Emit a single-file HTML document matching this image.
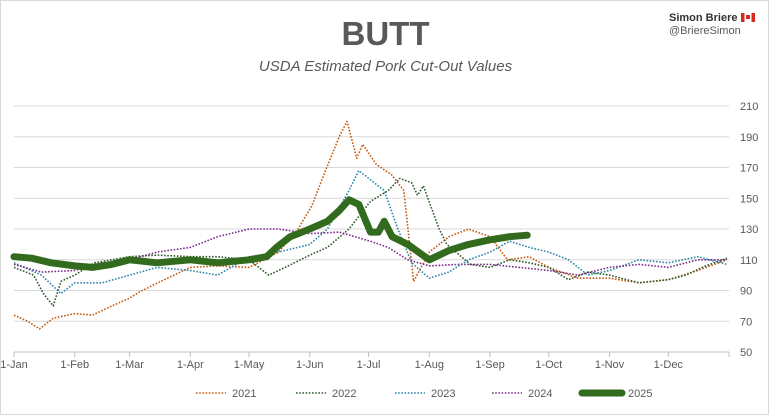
<!DOCTYPE html>
<html><head><meta charset="utf-8">
<style>
body{margin:0;background:#fff;font-family:"Liberation Sans",sans-serif;}
#wrap{position:relative;width:767px;height:413px;border:1px solid #d9d9d9;overflow:hidden;}
.t{position:absolute;white-space:nowrap;}
</style></head><body>
<div id="wrap">
<div class="t" style="left:0;width:769px;text-align:center;top:14px;font-size:33px;font-weight:bold;color:#595959;">BUTT</div>
<div class="t" style="left:0;width:769px;text-align:center;top:57px;font-size:15px;font-style:italic;color:#595959;">USDA Estimated Pork Cut-Out Values</div>
<div class="t" style="left:668px;top:11px;font-size:11px;font-weight:bold;color:#333;">Simon Briere <span style="display:inline-block;width:14px;height:9px;background:linear-gradient(90deg,#d52b1e 25%,#fff 25%,#fff 75%,#d52b1e 75%);vertical-align:-1px;position:relative"><span style="position:absolute;left:5px;top:2px;width:4px;height:4px;background:#d52b1e"></span></span></div>
<div class="t" style="left:668px;top:24px;font-size:11px;color:#595959;">@BriereSimon</div>
<svg id="chart" width="769" height="415" style="position:absolute;left:-1px;top:-1px"></svg>
</div>
<script>
const days2021=[0,7,13,20,31,40,50,59,64,75,90,104,120,135,145,152,159,166,170,175,178,185,193,199,204,212,222,232,243,252,263,273,288,304,319,334,349,364];
const vals2021=[74,70,65,72,75,74,80,85,89,96,105,106,105,115,130,145,168,190,200,176,185,172,165,155,96,115,125,130,125,110,112,105,98,98,95,97,103,110];
const days2022=[0,10,15,20,24,31,41,59,73,90,104,120,130,140,151,160,171,182,191,197,203,206,209,217,221,233,243,253,263,273,283,293,304,319,334,343,353,364];
const vals2022=[105,100,88,80,96,100,108,112,113,112,112,110,100,106,113,118,130,148,155,163,160,152,158,130,120,107,105,110,108,105,97,102,100,95,97,100,106,111];
const days2023=[0,14,24,31,45,59,73,90,104,120,135,151,160,171,176,182,189,196,203,212,222,232,243,253,263,273,283,293,304,319,334,349,364];
const vals2023=[108,100,88,95,95,100,105,103,100,112,115,120,130,155,168,162,155,130,108,98,102,110,115,122,118,115,110,100,103,110,108,112,107];
const days2024=[0,14,31,45,59,73,90,104,120,135,151,166,182,191,201,212,227,243,258,273,288,304,319,334,349,364];
const vals2024=[107,102,103,108,110,115,118,125,130,130,127,128,122,118,110,106,107,107,105,103,100,105,107,105,110,110];
const days2025=[0,9,19,31,40,50,59,73,90,104,120,129,134,141,151,160,166,171,176,182,186,189,193,201,212,222,232,243,253,262];
const vals2025=[112,111,108,106,105,107,110,108,110,108,110,112,118,125,130,135,142,149,146,128,128,135,125,120,110,116,120,123,125,126];
const yTicks=[50,70,90,110,130,150,170,190,210];
const xLabels=["1-Jan","1-Feb","1-Mar","1-Apr","1-May","1-Jun","1-Jul","1-Aug","1-Sep","1-Oct","1-Nov","1-Dec"];
const xLabelDays=[0,31,59,90,120,151,181,212,243,273,304,334];

const NS="http://www.w3.org/2000/svg";
const svg=document.getElementById('chart');
const X0=14,X1=729,Y0=352,Y1=106;
const xs=d=>X0+(X1-X0)*d/365;
const ys=v=>Y0-(Y0-Y1)*(v-50)/160;
function mk(tag,attrs){const e=document.createElementNS(NS,tag);for(const k in attrs)e.setAttribute(k,attrs[k]);svg.appendChild(e);return e;}
yTicks.forEach(v=>{
  if(v>50){const g=mk('line',{x1:X0,x2:X1,y1:ys(v),y2:ys(v),stroke:'#d9d9d9','stroke-width':1});
  
  }
  const t=mk('text',{x:740,y:ys(v)+4,'font-size':11,fill:'#595959','font-family':'Liberation Sans, sans-serif'});
  t.textContent=v;
  
  
});
const ax=mk('line',{x1:X0,x2:X1,y1:Y0,y2:Y0,stroke:'#bfbfbf','stroke-width':1});


xLabelDays.forEach((d,i)=>{
  const tk=mk('line',{x1:xs(d),x2:xs(d),y1:Y0,y2:Y0+5,stroke:'#bfbfbf'});
  
  
  const t=mk('text',{x:xs(d),y:Y0+16,'font-size':11,fill:'#595959','text-anchor':'middle','font-family':'Liberation Sans, sans-serif'});
  t.textContent=xLabels[i];
  
  
});
const tk2=mk('line',{x1:X1,x2:X1,y1:Y0,y2:Y0+5,stroke:'#bfbfbf'});


const series=[
 {n:'2021',d:days2021,v:vals2021,c:'#c55a11',w:1.6,da:'1.6 1.6'},
 {n:'2022',d:days2022,v:vals2022,c:'#2e5a2a',w:1.6,da:'1.6 1.6'},
 {n:'2023',d:days2023,v:vals2023,c:'#2e86ab',w:1.6,da:'1.6 1.6'},
 {n:'2024',d:days2024,v:vals2024,c:'#7b2d8b',w:1.6,da:'1.6 1.6'},
 {n:'2025',d:days2025,v:vals2025,c:'#336b1e',w:7,da:'none'}
];
series.forEach(s=>{
  const pts=s.d.map((d,i)=>xs(d).toFixed(1)+','+ys(s.v[i]).toFixed(1)).join(' ');
  const p=mk('polyline',{points:pts,fill:'none',stroke:s.c,'stroke-width':s.w,'stroke-dasharray':s.da,'stroke-linejoin':'round','stroke-linecap':s.da==='none'?'round':'butt'});
  
  
});
const legX=[196,296,395,492,582];
series.forEach((s,i)=>{
  const len=s.n==='2025'?40:30;
  const l=mk('line',{x1:legX[i],x2:legX[i]+len,y1:393,y2:393,stroke:s.c,'stroke-width':s.w,'stroke-dasharray':s.da,'stroke-linecap':s.da==='none'?'round':'butt'});
  
  
  const t=mk('text',{x:legX[i]+len+6,y:397,'font-size':11,fill:'#595959','font-family':'Liberation Sans, sans-serif'});
  t.textContent=s.n;
  
  
});
</script>
</body></html>
